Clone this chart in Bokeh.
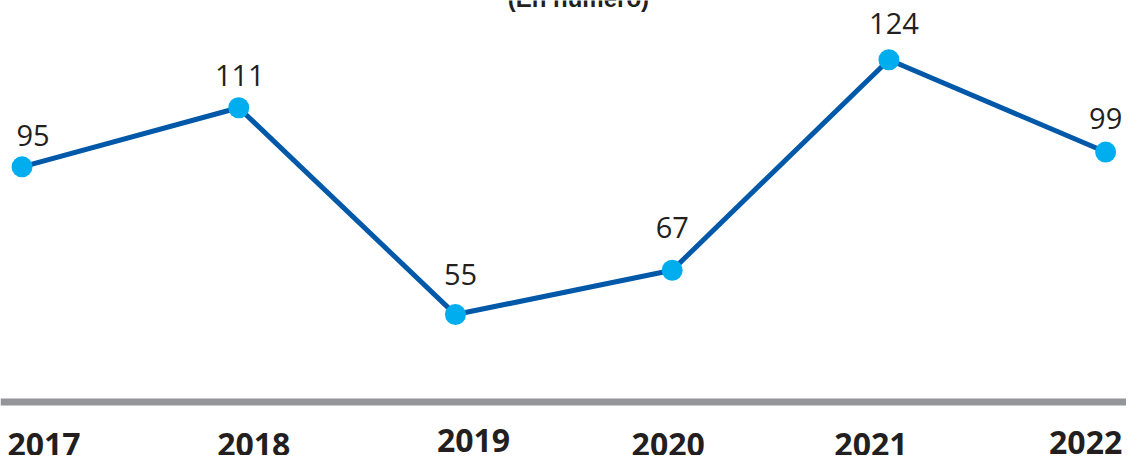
from bokeh.plotting import figure
from bokeh.models import ColumnDataSource, Range1d, Span
from bokeh.core.properties import value
from bokeh.embed import file_html
from bokeh.resources import INLINE

# ---- data ----
years = [2017, 2018, 2019, 2020, 2021, 2022]
counts = [95, 111, 55, 67, 124, 99]
year_labels = ["2017", "2018", "2019", "2020", "2021", "2022"]
count_labels = [str(c) for c in counts]
title_text = "(En número)"

# ---- styling offsets (screen px) ----
val_dx = [11, 1, 5, 0, 5, 0]
val_dy = [-31, -32, -40, -43, -36, -34]
yr_dx = [22, 15, 18, -4, -18, -20]
yr_dy = [-10, -10, -14, -10, -10, -12]

src = ColumnDataSource(dict(x=years, y=counts, lab=count_labels,
                            ylab=year_labels, vdx=val_dx, vdy=val_dy,
                            ydx=yr_dx, ydy=yr_dy,
                            ybase=[17.1] * len(years)))

p = figure(width=1126, height=455, output_backend="svg", toolbar_location=None,
           x_range=Range1d(2016.9006, 2022.0962), y_range=Range1d(16.84, 140.04),
           x_axis_location=None, y_axis_location=None,
           min_border=0, min_border_left=0, min_border_right=0,
           min_border_top=0, min_border_bottom=0)
p.grid.visible = False
p.outline_line_color = None
p.background_fill_color = "white"
p.border_fill_color = "white"

# gray baseline
p.add_layout(Span(location=31.35, dimension="width", line_color="#939598", line_width=7))

# line and markers
p.line("x", "y", source=src, line_color="#0058a9", line_width=5)
p.scatter("x", "y", source=src, size=21, fill_color="#00aeef", line_color=None)

# value labels
p.text("x", "y", text="lab", source=src, x_offset="vdx", y_offset="vdy",
       text_align="center", text_baseline="alphabetic",
       text_font=value("Open Sans"), text_font_size="29px", text_color="#231f20")

# year labels
p.text("x", "ybase", text="ylab", source=src, x_offset="ydx", y_offset="ydy",
       text_align="center", text_baseline="alphabetic",
       text_font=value("Open Sans"), text_font_style="bold",
       text_font_size="32px", text_color="#231f20")

# partially visible title
p.text(x=[2019.567], y=[137.95], text=[title_text], text_align="center",
       text_baseline="alphabetic", y_offset=-10, text_font=value("Liberation Sans"),
       text_font_style="bold", text_font_size="24px", text_color="#231f20")

open("out.html", "w").write(file_html(p, INLINE))
